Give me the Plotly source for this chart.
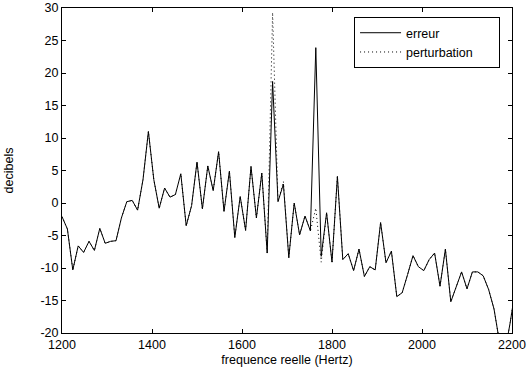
import plotly.graph_objects as go

freq = [1200, 1212, 1224, 1236, 1248, 1260, 1272, 1284, 1296, 1308,
        1320, 1332, 1344, 1356, 1368, 1380, 1392, 1404, 1416, 1428,
        1440, 1452, 1464, 1476, 1488, 1500, 1512, 1524, 1536, 1548,
        1560, 1572, 1584, 1596, 1608, 1620, 1632, 1644, 1656, 1668,
        1680, 1692, 1704, 1716, 1728, 1740, 1752, 1764, 1776, 1788,
        1800, 1812, 1824, 1836, 1848, 1860, 1872, 1884, 1896, 1908,
        1920, 1932, 1944, 1956, 1968, 1980, 1992, 2004, 2016, 2028,
        2040, 2052, 2064, 2076, 2088, 2100, 2112, 2124, 2136, 2148,
        2160, 2172, 2184, 2196, 2208]

erreur = [-2.1, -4.0, -10.3, -6.6, -7.6, -5.9, -7.3, -3.9, -6.2, -5.9,
          -5.8, -2.3, 0.2, 0.4, -1.1, 3.6, 11.0, 3.6, -0.8, 2.3,
          0.9, 1.3, 4.5, -3.5, -0.4, 6.3, -0.9, 5.7, 1.9, 7.9,
          -1.3, 4.9, -5.3, 1.0, -4.2, 5.6, -2.3, 4.6, -7.7, 18.7,
          0.2, 2.9, -8.4, 0.0, -4.9, -2.0, -4.3, 23.9, -8.2, -1.5,
          -9.1, 4.1, -8.7, -7.8, -10.4, -7.1, -11.3, -9.8, -10.3, -3.0,
          -9.2, -7.4, -14.4, -13.8, -11.0, -8.1, -9.8, -10.4, -8.7, -7.7,
          -12.8, -7.1, -15.2, -13.0, -10.6, -13.2, -10.6, -10.6, -11.2, -13.3,
          -16.3, -21.3, -23.0, -18.4, -13.0]

perturbation = [-2.1, -4.0, -10.3, -6.6, -7.6, -5.9, -7.3, -3.9, -6.2, -5.9,
                -5.8, -2.3, 0.2, 0.4, -1.1, 3.6, 11.0, 3.6, -0.8, 2.3,
                0.9, 1.3, 4.5, -3.5, -0.4, 6.3, -0.9, 5.7, 1.9, 7.9,
                -1.3, 4.9, -5.3, 1.0, -4.2, 5.6, -2.3, 4.6, -7.7, 29.3,
                0.2, 3.3, -8.4, 0.0, -4.9, -2.0, -4.3, -0.8, -9.1, -1.5,
                -9.1, 4.1, -8.7, -7.8, -10.4, -7.1, -11.3, -9.8, -10.3, -3.0,
                -9.2, -7.4, -14.4, -13.8, -11.0, -8.1, -9.8, -10.4, -8.7, -7.7,
                -12.8, -7.1, -15.2, -13.0, -10.6, -13.2, -10.6, -10.6, -11.2, -13.3,
                -16.3, -21.3, -23.0, -18.4, -13.0]

x_ticks = [1200, 1400, 1600, 1800, 2000, 2200]
y_ticks = [-20, -15, -10, -5, 0, 5, 10, 15, 20, 25, 30]

FONT = "Liberation Sans, Arial, Helvetica, sans-serif"
DOT = "1px,3px"
PAD = "\u00a0" * 6

fig = go.Figure()
fig.add_trace(go.Scatter(x=freq, y=perturbation, mode="lines", name="perturbation",
                         line=dict(color="black", width=1, dash=DOT), showlegend=False))
fig.add_trace(go.Scatter(x=freq, y=erreur, mode="lines", name="erreur",
                         line=dict(color="black", width=1)))
fig.add_trace(go.Scatter(x=[None], y=[None], mode="lines", name="perturbation" + PAD,
                         line=dict(color="black", width=1, dash=DOT)))

axis_common = dict(showgrid=False, zeroline=False, showline=True, linecolor="black",
                   linewidth=1, mirror="ticks", ticks="inside", ticklen=4,
                   tickcolor="black", tickwidth=1, automargin=False,
                   tickfont=dict(family=FONT, size=12.5, color="black"))

fig.update_layout(
    width=527, height=376,
    margin=dict(l=62, r=15, t=8, b=43),
    paper_bgcolor="white", plot_bgcolor="white",
    font=dict(family=FONT, size=12, color="black"),
    xaxis=dict(range=[1200, 2200], tickvals=x_ticks, ticktext=[str(v) for v in x_ticks],
               title=dict(text="frequence reelle (Hertz)", standoff=4,
                          font=dict(family=FONT, size=12.5, color="black")),
               **axis_common),
    yaxis=dict(range=[-20, 30], tickvals=y_ticks, ticktext=[str(v) for v in y_ticks],
               title=dict(text="decibels", standoff=24,
                          font=dict(family=FONT, size=12.5, color="black")),
               **axis_common),
    legend=dict(x=0.649, y=0.972, xanchor="left", yanchor="top",
                bgcolor="white", bordercolor="black", borderwidth=1,
                font=dict(family=FONT, size=12.5, color="black"),
                itemwidth=41, tracegroupgap=0),
    showlegend=True,
)

fig.write_html("out.html", config={"displayModeBar": False},
               post_script="document.body.style.margin='0';")
